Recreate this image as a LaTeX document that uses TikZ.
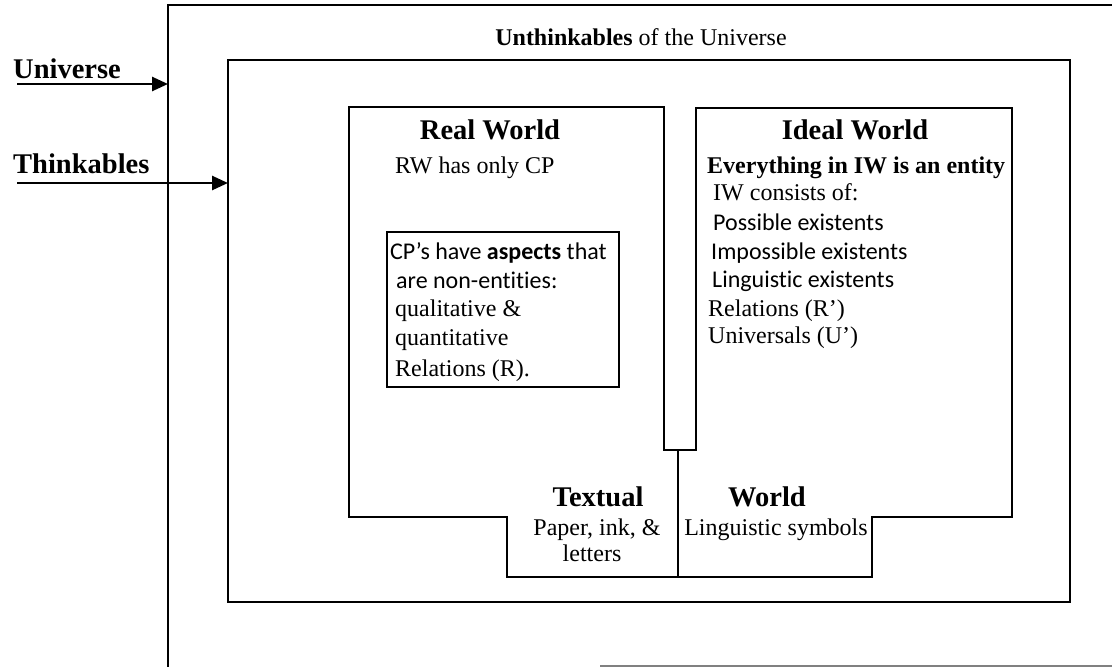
\documentclass[tikz,border=0pt]{standalone}
\usepackage{fontspec}
\setmainfont{Liberation Serif}
\newfontfamily\calibrifont[Ligatures=NoCommon]{Carlito}
\usetikzlibrary{arrows.meta,positioning}

\tikzset{
  frame/.style={line width=1.8pt},
  pointer/.style={line width=2.6pt,-{Triangle[length=16pt,width=14pt]}},
  heading/.style={font=\fontsize{28.5}{32}\selectfont\bfseries,inner sep=0pt},
  plain/.style={font=\fontsize{24}{28}\selectfont,inner sep=0pt},
  sans/.style={font=\calibrifont\fontsize{24}{28}\selectfont,inner sep=0pt},
}

\begin{document}
\begin{tikzpicture}[x=1pt,y=-1pt]
\useasboundingbox (0,0) rectangle (1112,667);
%draw universe box
\draw[frame] (1112,5) -- (168,5) -- (168,667);
\draw[frame,gray] (600,666) -- (1112,666);
%draw thinkables box
\draw[frame] (228,60) rectangle (1070,602);
\draw (641,45) node[plain,anchor=base] (unthink) {\textbf{Unthinkables} of the Universe};
%labels and arrows on the left
\draw (13,78) node[heading,anchor=base west] (universe) {Universe};
\draw (13,173) node[heading,anchor=base west] (thinkables) {Thinkables};
\coordinate (uniTail) at (17,84);
\coordinate (uniHead) at (168,84);
\coordinate (thkTail) at (17,183);
\coordinate (thkHead) at (228,183);
\draw[pointer] (uniTail) -- (uniHead);
\draw[pointer] (thkTail) -- (thkHead);
% real world, with the textual part below it
\draw[frame] (349,107) -- (664,107) -- (664,450) -- (678,450) -- (678,577)
   -- (507,577) -- (507,517) -- (349,517) -- cycle;
% ideal world, with the world part below it
\draw[frame] (696,108) -- (1012,108) -- (1012,517) -- (872,517) -- (872,577)
   -- (678,577) -- (678,450) -- (696,450) -- cycle;
% real world texts
\draw (490,139) node[heading,anchor=base] (rwTitle) {Real World};
\draw (395,173) node[plain,anchor=base west] (rwOnly) {RW has only CP};
\node[draw,frame,minimum width=232pt,minimum height=155pt] (cpBox) at (503,309.5) {};
\draw (390,259) node[sans,anchor=base west] (cpA) {CP’s have \textbf{aspects} that};
\draw (396,288) node[sans,anchor=base west] (cpB) {are non-entities:};
\draw (395,316) node[plain,anchor=base west] (cpC) {qualitative \&};
\draw (395,345) node[plain,anchor=base west] (cpD) {quantitative};
\draw (395,376) node[plain,anchor=base west] (cpE) {Relations (R).};
% ideal world texts
\draw (855,139) node[heading,anchor=base] (iwTitle) {Ideal World};
\draw (707,173) node[plain,font=\fontsize{24}{28}\selectfont\bfseries,anchor=base west] (iwEntity) {Everything in IW is an entity};
\draw (713,200) node[plain,anchor=base west] (iwA) {IW consists of:};
\draw (713,230) node[sans,anchor=base west] (iwB) {Possible existents};
\draw (711,259) node[sans,anchor=base west] (iwC) {Impossible existents};
\draw (712,287) node[sans,anchor=base west] (iwD) {Linguistic existents};
\draw (708,316) node[plain,anchor=base west] (iwE) {Relations (R’)};
\draw (708,343) node[plain,anchor=base west] (iwF) {Universals (U’)};
% textual world texts
\draw (598,506) node[heading,anchor=base] (twLeft) {Textual};
\draw (767,506) node[heading,anchor=base] (twRight) {World};
\draw (597,535) node[plain,anchor=base] (twPaper) {Paper, ink, \&};
\draw (592,561) node[plain,anchor=base] (twLetters) {letters};
\draw (776,535) node[plain,anchor=base] (twSymbols) {Linguistic symbols};
\end{tikzpicture}
\end{document}
